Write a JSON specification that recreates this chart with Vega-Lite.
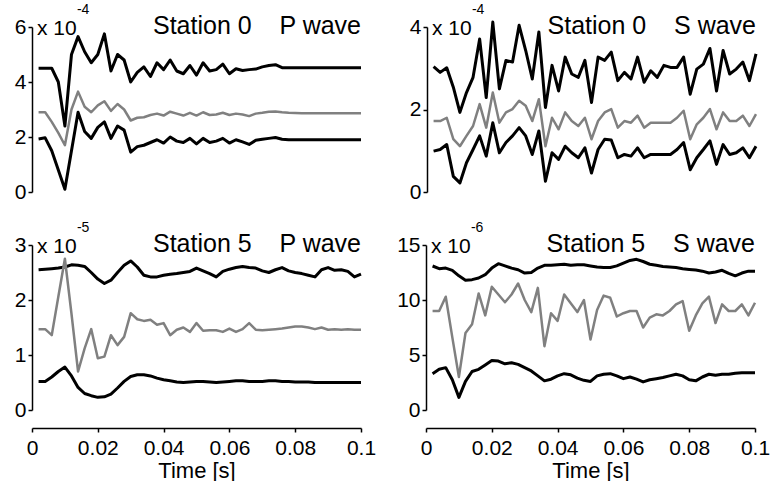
{
"$schema": "https://vega.github.io/schema/vega-lite/v6.json",
"padding": {"left": 14, "top": 3, "right": 0, "bottom": 0},
"datasets": {
"s0p": [
{"t":0.002,"u":4.5,"m":2.9,"l":1.93},{"t":0.004,"u":4.5,"m":2.9,"l":1.97},{"t":0.006,"u":4.5,"m":2.55,"l":1.5},{"t":0.008,"u":4.0,"m":2.15,"l":0.8},{"t":0.010,"u":2.4,"m":1.7,"l":0.1},
{"t":0.012,"u":5.0,"m":3.0,"l":1.5},{"t":0.014,"u":5.65,"m":3.65,"l":2.9},{"t":0.016,"u":5.1,"m":3.1,"l":2.2},{"t":0.018,"u":4.7,"m":2.9,"l":1.95},{"t":0.020,"u":5.0,"m":3.15,"l":2.35},
{"t":0.022,"u":5.75,"m":3.3,"l":2.55},{"t":0.024,"u":4.4,"m":2.95,"l":1.95},{"t":0.026,"u":5.0,"m":3.2,"l":2.4},{"t":0.028,"u":4.8,"m":3.0,"l":2.25},{"t":0.030,"u":4.0,"m":2.6,"l":1.45},
{"t":0.032,"u":4.35,"m":2.7,"l":1.65},{"t":0.034,"u":4.55,"m":2.72,"l":1.7},{"t":0.036,"u":4.2,"m":2.8,"l":1.8},{"t":0.038,"u":4.7,"m":2.85,"l":1.9},{"t":0.040,"u":4.45,"m":2.78,"l":1.78},
{"t":0.042,"u":4.8,"m":2.92,"l":2.0},{"t":0.044,"u":4.4,"m":2.85,"l":1.85},{"t":0.046,"u":4.3,"m":2.78,"l":1.8},{"t":0.048,"u":4.6,"m":2.88,"l":1.95},{"t":0.050,"u":4.25,"m":2.78,"l":1.75},
{"t":0.052,"u":4.7,"m":2.9,"l":1.95},{"t":0.054,"u":4.4,"m":2.8,"l":1.8},{"t":0.056,"u":4.45,"m":2.82,"l":1.85},{"t":0.058,"u":4.65,"m":2.88,"l":1.95},{"t":0.060,"u":4.3,"m":2.8,"l":1.78},
{"t":0.062,"u":4.48,"m":2.85,"l":1.9},{"t":0.064,"u":4.42,"m":2.82,"l":1.82},{"t":0.066,"u":4.45,"m":2.76,"l":1.73},{"t":0.068,"u":4.47,"m":2.85,"l":1.88},{"t":0.070,"u":4.55,"m":2.88,"l":1.92},
{"t":0.072,"u":4.6,"m":2.92,"l":1.95},{"t":0.074,"u":4.63,"m":2.93,"l":1.98},{"t":0.076,"u":4.52,"m":2.9,"l":1.92},{"t":0.078,"u":4.52,"m":2.88,"l":1.9},{"t":0.080,"u":4.52,"m":2.87,"l":1.9},
{"t":0.082,"u":4.52,"m":2.86,"l":1.9},{"t":0.084,"u":4.52,"m":2.86,"l":1.9},{"t":0.086,"u":4.52,"m":2.86,"l":1.9},{"t":0.088,"u":4.52,"m":2.86,"l":1.9},{"t":0.090,"u":4.52,"m":2.86,"l":1.9},
{"t":0.092,"u":4.52,"m":2.86,"l":1.9},{"t":0.094,"u":4.52,"m":2.86,"l":1.9},{"t":0.096,"u":4.52,"m":2.86,"l":1.9},{"t":0.098,"u":4.52,"m":2.86,"l":1.9},{"t":0.100,"u":4.52,"m":2.86,"l":1.9}
],
"s0s": [
{"t":0.002,"u":3.04,"m":1.72,"l":0.99},{"t":0.004,"u":2.90,"m":1.72,"l":1.03},{"t":0.006,"u":3.01,"m":1.80,"l":1.15},{"t":0.008,"u":2.54,"m":1.28,"l":0.38},{"t":0.010,"u":1.93,"m":1.11,"l":0.22},
{"t":0.012,"u":2.41,"m":1.36,"l":0.71},{"t":0.014,"u":2.78,"m":1.60,"l":1.03},{"t":0.016,"u":3.71,"m":2.13,"l":1.36},{"t":0.018,"u":2.29,"m":1.56,"l":0.87},{"t":0.020,"u":4.12,"m":2.41,"l":1.68},
{"t":0.022,"u":2.50,"m":1.68,"l":0.95},{"t":0.024,"u":3.19,"m":1.93,"l":1.20},{"t":0.026,"u":3.15,"m":2.01,"l":1.36},{"t":0.028,"u":4.04,"m":2.21,"l":1.56},{"t":0.030,"u":3.43,"m":2.09,"l":1.36},
{"t":0.032,"u":2.74,"m":1.72,"l":0.91},{"t":0.034,"u":3.88,"m":2.25,"l":1.48},{"t":0.036,"u":2.05,"m":1.11,"l":0.26},{"t":0.038,"u":3.07,"m":1.80,"l":0.95},{"t":0.040,"u":2.45,"m":1.52,"l":0.79},
{"t":0.042,"u":3.27,"m":1.93,"l":1.11},{"t":0.044,"u":2.86,"m":1.72,"l":0.95},{"t":0.046,"u":2.78,"m":1.60,"l":0.83},{"t":0.048,"u":3.19,"m":1.80,"l":1.07},{"t":0.050,"u":2.17,"m":1.28,"l":0.46},
{"t":0.052,"u":3.27,"m":1.72,"l":1.03},{"t":0.054,"u":3.19,"m":1.93,"l":1.28},{"t":0.056,"u":3.39,"m":2.01,"l":1.26},{"t":0.058,"u":2.70,"m":1.56,"l":0.83},{"t":0.060,"u":2.90,"m":1.72,"l":0.91},
{"t":0.062,"u":2.74,"m":1.68,"l":0.87},{"t":0.064,"u":3.27,"m":1.85,"l":1.07},{"t":0.066,"u":2.66,"m":1.56,"l":0.83},{"t":0.068,"u":2.94,"m":1.68,"l":0.91},{"t":0.070,"u":2.78,"m":1.68,"l":0.91},
{"t":0.072,"u":3.07,"m":1.68,"l":0.91},{"t":0.074,"u":3.02,"m":1.68,"l":0.91},{"t":0.076,"u":3.02,"m":1.80,"l":1.03},{"t":0.078,"u":3.27,"m":1.97,"l":1.20},{"t":0.080,"u":2.37,"m":1.28,"l":0.54},
{"t":0.082,"u":2.98,"m":1.64,"l":0.83},{"t":0.084,"u":3.10,"m":1.80,"l":1.03},{"t":0.086,"u":3.48,"m":2.01,"l":1.24},{"t":0.088,"u":2.45,"m":1.52,"l":0.67},{"t":0.090,"u":3.43,"m":1.93,"l":1.15},
{"t":0.092,"u":2.86,"m":1.72,"l":0.91},{"t":0.094,"u":2.98,"m":1.72,"l":0.95},{"t":0.096,"u":3.15,"m":1.85,"l":1.07},{"t":0.098,"u":2.70,"m":1.60,"l":0.83},{"t":0.100,"u":3.35,"m":1.89,"l":1.11}
],
"s5p": [
{"t":0.002,"u":2.55,"m":1.47,"l":0.52},{"t":0.004,"u":2.56,"m":1.47,"l":0.52},{"t":0.006,"u":2.57,"m":1.36,"l":0.60},{"t":0.008,"u":2.58,"m":2.06,"l":0.70},{"t":0.010,"u":2.60,"m":2.75,"l":0.78},
{"t":0.012,"u":2.64,"m":1.75,"l":0.62},{"t":0.014,"u":2.63,"m":0.70,"l":0.41},{"t":0.016,"u":2.61,"m":1.12,"l":0.30},{"t":0.018,"u":2.50,"m":1.47,"l":0.26},{"t":0.020,"u":2.38,"m":0.94,"l":0.23},
{"t":0.022,"u":2.30,"m":0.97,"l":0.24},{"t":0.024,"u":2.36,"m":1.36,"l":0.29},{"t":0.026,"u":2.50,"m":1.18,"l":0.40},{"t":0.028,"u":2.63,"m":1.33,"l":0.52},{"t":0.030,"u":2.71,"m":1.76,"l":0.61},
{"t":0.032,"u":2.60,"m":1.65,"l":0.64},{"t":0.034,"u":2.45,"m":1.62,"l":0.64},{"t":0.036,"u":2.42,"m":1.64,"l":0.62},{"t":0.038,"u":2.42,"m":1.55,"l":0.58},{"t":0.040,"u":2.45,"m":1.58,"l":0.55},
{"t":0.042,"u":2.47,"m":1.36,"l":0.53},{"t":0.044,"u":2.48,"m":1.46,"l":0.51},{"t":0.046,"u":2.50,"m":1.50,"l":0.50},{"t":0.048,"u":2.52,"m":1.42,"l":0.51},{"t":0.050,"u":2.58,"m":1.58,"l":0.52},
{"t":0.052,"u":2.53,"m":1.44,"l":0.52},{"t":0.054,"u":2.48,"m":1.45,"l":0.51},{"t":0.056,"u":2.42,"m":1.45,"l":0.50},{"t":0.058,"u":2.52,"m":1.42,"l":0.51},{"t":0.060,"u":2.56,"m":1.48,"l":0.52},
{"t":0.062,"u":2.59,"m":1.42,"l":0.53},{"t":0.064,"u":2.61,"m":1.47,"l":0.53},{"t":0.066,"u":2.59,"m":1.58,"l":0.52},{"t":0.068,"u":2.58,"m":1.46,"l":0.52},{"t":0.070,"u":2.53,"m":1.45,"l":0.52},
{"t":0.072,"u":2.50,"m":1.46,"l":0.53},{"t":0.074,"u":2.55,"m":1.47,"l":0.53},{"t":0.076,"u":2.59,"m":1.48,"l":0.52},{"t":0.078,"u":2.53,"m":1.50,"l":0.52},{"t":0.080,"u":2.50,"m":1.52,"l":0.51},
{"t":0.082,"u":2.48,"m":1.52,"l":0.51},{"t":0.084,"u":2.45,"m":1.50,"l":0.51},{"t":0.086,"u":2.42,"m":1.47,"l":0.50},{"t":0.088,"u":2.55,"m":1.50,"l":0.50},{"t":0.090,"u":2.59,"m":1.46,"l":0.50},
{"t":0.092,"u":2.54,"m":1.47,"l":0.50},{"t":0.094,"u":2.55,"m":1.46,"l":0.50},{"t":0.096,"u":2.52,"m":1.47,"l":0.50},{"t":0.098,"u":2.42,"m":1.46,"l":0.50},{"t":0.100,"u":2.47,"m":1.46,"l":0.50}
],
"s5s": [
{"t":0.002,"u":13.09,"m":9.0,"l":3.3},{"t":0.004,"u":12.85,"m":9.0,"l":3.7},{"t":0.006,"u":12.9,"m":10.3,"l":3.85},{"t":0.008,"u":12.7,"m":6.6,"l":2.75},{"t":0.010,"u":12.2,"m":3.0,"l":1.15},
{"t":0.012,"u":11.8,"m":7.0,"l":2.6},{"t":0.014,"u":11.85,"m":7.8,"l":3.5},{"t":0.016,"u":12.0,"m":10.6,"l":3.7},{"t":0.018,"u":12.3,"m":8.6,"l":4.1},{"t":0.020,"u":12.9,"m":11.2,"l":4.5},
{"t":0.022,"u":13.3,"m":10.5,"l":4.45},{"t":0.024,"u":13.1,"m":9.8,"l":4.2},{"t":0.026,"u":12.9,"m":10.5,"l":4.3},{"t":0.028,"u":12.75,"m":11.5,"l":4.15},{"t":0.030,"u":12.45,"m":10.0,"l":3.85},
{"t":0.032,"u":12.5,"m":8.9,"l":3.55},{"t":0.034,"u":12.9,"m":11.1,"l":3.1},{"t":0.036,"u":13.15,"m":5.8,"l":2.65},{"t":0.038,"u":13.15,"m":8.8,"l":2.8},{"t":0.040,"u":13.2,"m":8.1,"l":3.1},
{"t":0.042,"u":13.25,"m":10.5,"l":3.3},{"t":0.044,"u":13.15,"m":9.7,"l":3.2},{"t":0.046,"u":13.2,"m":8.9,"l":2.9},{"t":0.048,"u":13.2,"m":10.0,"l":2.7},{"t":0.050,"u":13.1,"m":6.4,"l":2.6},
{"t":0.052,"u":13.0,"m":9.1,"l":3.1},{"t":0.054,"u":12.95,"m":10.4,"l":3.25},{"t":0.056,"u":12.95,"m":10.2,"l":3.3},{"t":0.058,"u":13.1,"m":8.5,"l":3.1},{"t":0.060,"u":13.35,"m":8.8,"l":2.85},
{"t":0.062,"u":13.6,"m":9.0,"l":3.0},{"t":0.064,"u":13.7,"m":9.0,"l":2.8},{"t":0.066,"u":13.5,"m":7.5,"l":2.55},{"t":0.068,"u":13.25,"m":8.4,"l":2.75},{"t":0.070,"u":13.15,"m":8.7,"l":2.85},
{"t":0.072,"u":13.05,"m":8.6,"l":2.95},{"t":0.074,"u":13.0,"m":9.0,"l":3.1},{"t":0.076,"u":12.95,"m":9.6,"l":3.25},{"t":0.078,"u":12.85,"m":9.9,"l":3.1},{"t":0.080,"u":12.78,"m":7.2,"l":2.75},
{"t":0.082,"u":12.72,"m":8.6,"l":2.65},{"t":0.084,"u":12.62,"m":9.7,"l":3.0},{"t":0.086,"u":12.45,"m":10.3,"l":3.25},{"t":0.088,"u":12.55,"m":7.9,"l":3.15},{"t":0.090,"u":12.7,"m":9.6,"l":3.25},
{"t":0.092,"u":12.42,"m":9.0,"l":3.25},{"t":0.094,"u":12.2,"m":9.0,"l":3.35},{"t":0.096,"u":12.45,"m":9.6,"l":3.39},{"t":0.098,"u":12.62,"m":8.6,"l":3.39},{"t":0.100,"u":12.62,"m":9.75,"l":3.39}
]
},
"vconcat": [
{"hconcat": [
{"width": 329, "height": 165,
 "encoding": {"x": {"field": "t", "type": "quantitative", "scale": {"domain": [0, 0.1], "nice": false}, "axis": null}},
 "layer": [
  {"data": {"name": "s0p"}, "mark": {"type": "line", "color": "#000", "strokeWidth": 3, "strokeJoin": "round"}, "encoding": {"y": {"field": "u", "type": "quantitative", "title": null, "scale": {"domain": [0, 6], "nice": false}, "axis": {"values": [0, 2, 4, 6], "format": "~g"}}}},
  {"data": {"name": "s0p"}, "mark": {"type": "line", "color": "#808080", "strokeWidth": 2.5, "strokeJoin": "round"}, "encoding": {"y": {"field": "m", "type": "quantitative", "title": null}}},
  {"data": {"name": "s0p"}, "mark": {"type": "line", "color": "#000", "strokeWidth": 3, "strokeJoin": "round"}, "encoding": {"y": {"field": "l", "type": "quantitative", "title": null}}},
  {"data": {"values": [{"t": 0.0015, "v": 6, "txt": "x 10"}]}, "mark": {"type": "text", "align": "left", "baseline": "middle", "fontSize": 21, "dy": 2}, "encoding": {"y": {"field": "v", "type": "quantitative", "title": null}, "text": {"field": "txt"}}},
  {"data": {"values": [{"t": 0.0015, "v": 6, "txt": "-4"}]}, "mark": {"type": "text", "align": "left", "baseline": "middle", "fontSize": 14, "dx": 40, "dy": -17}, "encoding": {"y": {"field": "v", "type": "quantitative", "title": null}, "text": {"field": "txt"}}},
  {"data": {"values": [{"t": 0.1, "v": 6, "txt": "Station 0\u00a0\u00a0\u00a0\u00a0P wave"}]}, "mark": {"type": "text", "align": "right", "baseline": "middle", "fontSize": 25, "dy": -1}, "encoding": {"y": {"field": "v", "type": "quantitative", "title": null}, "text": {"field": "txt"}}}
 ]},
{"width": 329, "height": 165,
 "encoding": {"x": {"field": "t", "type": "quantitative", "scale": {"domain": [0, 0.1], "nice": false}, "axis": null}},
 "layer": [
  {"data": {"name": "s0s"}, "mark": {"type": "line", "color": "#000", "strokeWidth": 3, "strokeJoin": "round"}, "encoding": {"y": {"field": "u", "type": "quantitative", "title": null, "scale": {"domain": [0, 4], "nice": false}, "axis": {"values": [0, 2, 4], "format": "~g"}}}},
  {"data": {"name": "s0s"}, "mark": {"type": "line", "color": "#808080", "strokeWidth": 2.5, "strokeJoin": "round"}, "encoding": {"y": {"field": "m", "type": "quantitative", "title": null}}},
  {"data": {"name": "s0s"}, "mark": {"type": "line", "color": "#000", "strokeWidth": 3, "strokeJoin": "round"}, "encoding": {"y": {"field": "l", "type": "quantitative", "title": null}}},
  {"data": {"values": [{"t": 0.0015, "v": 4, "txt": "x 10"}]}, "mark": {"type": "text", "align": "left", "baseline": "middle", "fontSize": 21, "dy": 2}, "encoding": {"y": {"field": "v", "type": "quantitative", "title": null}, "text": {"field": "txt"}}},
  {"data": {"values": [{"t": 0.0015, "v": 4, "txt": "-4"}]}, "mark": {"type": "text", "align": "left", "baseline": "middle", "fontSize": 14, "dx": 40, "dy": -17}, "encoding": {"y": {"field": "v", "type": "quantitative", "title": null}, "text": {"field": "txt"}}},
  {"data": {"values": [{"t": 0.1, "v": 4, "txt": "Station 0\u00a0\u00a0\u00a0\u00a0S wave"}]}, "mark": {"type": "text", "align": "right", "baseline": "middle", "fontSize": 25, "dy": -1}, "encoding": {"y": {"field": "v", "type": "quantitative", "title": null}, "text": {"field": "txt"}}}
 ]}
], "spacing": 46},
{"hconcat": [
{"width": 329, "height": 165,
 "encoding": {"x": {"field": "t", "type": "quantitative", "scale": {"domain": [0, 0.1], "nice": false}, "axis": {"values": [0, 0.02, 0.04, 0.06, 0.08, 0.1], "format": "~g", "title": "Time [s]", "offset": 18, "labelPadding": 5, "titlePadding": 2, "labelFlush": false}}},
 "layer": [
  {"data": {"name": "s5p"}, "mark": {"type": "line", "color": "#000", "strokeWidth": 3, "strokeJoin": "round"}, "encoding": {"y": {"field": "u", "type": "quantitative", "title": null, "scale": {"domain": [0, 3], "nice": false}, "axis": {"values": [0, 1, 2, 3], "format": "~g"}}}},
  {"data": {"name": "s5p"}, "mark": {"type": "line", "color": "#808080", "strokeWidth": 2.5, "strokeJoin": "round"}, "encoding": {"y": {"field": "m", "type": "quantitative", "title": null}}},
  {"data": {"name": "s5p"}, "mark": {"type": "line", "color": "#000", "strokeWidth": 3, "strokeJoin": "round"}, "encoding": {"y": {"field": "l", "type": "quantitative", "title": null}}},
  {"data": {"values": [{"t": 0.0015, "v": 3, "txt": "x 10"}]}, "mark": {"type": "text", "align": "left", "baseline": "middle", "fontSize": 21, "dy": 2}, "encoding": {"y": {"field": "v", "type": "quantitative", "title": null}, "text": {"field": "txt"}}},
  {"data": {"values": [{"t": 0.0015, "v": 3, "txt": "-5"}]}, "mark": {"type": "text", "align": "left", "baseline": "middle", "fontSize": 14, "dx": 40, "dy": -17}, "encoding": {"y": {"field": "v", "type": "quantitative", "title": null}, "text": {"field": "txt"}}},
  {"data": {"values": [{"t": 0.1, "v": 3, "txt": "Station 5\u00a0\u00a0\u00a0\u00a0P wave"}]}, "mark": {"type": "text", "align": "right", "baseline": "middle", "fontSize": 25, "dy": -1}, "encoding": {"y": {"field": "v", "type": "quantitative", "title": null}, "text": {"field": "txt"}}}
 ]},
{"width": 329, "height": 165,
 "encoding": {"x": {"field": "t", "type": "quantitative", "scale": {"domain": [0, 0.1], "nice": false}, "axis": {"values": [0, 0.02, 0.04, 0.06, 0.08, 0.1], "format": "~g", "title": "Time [s]", "offset": 18, "labelPadding": 5, "titlePadding": 2, "labelFlush": false}}},
 "layer": [
  {"data": {"name": "s5s"}, "mark": {"type": "line", "color": "#000", "strokeWidth": 3, "strokeJoin": "round"}, "encoding": {"y": {"field": "u", "type": "quantitative", "title": null, "scale": {"domain": [0, 15], "nice": false}, "axis": {"values": [0, 5, 10, 15], "format": "~g"}}}},
  {"data": {"name": "s5s"}, "mark": {"type": "line", "color": "#808080", "strokeWidth": 2.5, "strokeJoin": "round"}, "encoding": {"y": {"field": "m", "type": "quantitative", "title": null}}},
  {"data": {"name": "s5s"}, "mark": {"type": "line", "color": "#000", "strokeWidth": 3, "strokeJoin": "round"}, "encoding": {"y": {"field": "l", "type": "quantitative", "title": null}}},
  {"data": {"values": [{"t": 0.0015, "v": 15, "txt": "x 10"}]}, "mark": {"type": "text", "align": "left", "baseline": "middle", "fontSize": 21, "dy": 2}, "encoding": {"y": {"field": "v", "type": "quantitative", "title": null}, "text": {"field": "txt"}}},
  {"data": {"values": [{"t": 0.0015, "v": 15, "txt": "-6"}]}, "mark": {"type": "text", "align": "left", "baseline": "middle", "fontSize": 14, "dx": 40, "dy": -17}, "encoding": {"y": {"field": "v", "type": "quantitative", "title": null}, "text": {"field": "txt"}}},
  {"data": {"values": [{"t": 0.1, "v": 15, "txt": "Station 5\u00a0\u00a0\u00a0\u00a0S wave"}]}, "mark": {"type": "text", "align": "right", "baseline": "middle", "fontSize": 25, "dy": -1}, "encoding": {"y": {"field": "v", "type": "quantitative", "title": null}, "text": {"field": "txt"}}}
 ]}
], "spacing": 20}
],
"spacing": 19,
"config": {
 "view": {"stroke": null},
 "font": "Liberation Sans",
 "axis": {"domainColor": "#000", "domainWidth": 1.5, "tickColor": "#000", "tickWidth": 1.5, "tickSize": 4, "labelFont": "Liberation Sans", "labelFontSize": 21, "labelColor": "#000", "grid": false, "labelPadding": 2, "titleFont": "Liberation Sans", "titleFontSize": 22, "titleFontWeight": "normal", "titleColor": "#000"},
 "text": {"font": "Liberation Sans", "color": "#000"}
}
}
